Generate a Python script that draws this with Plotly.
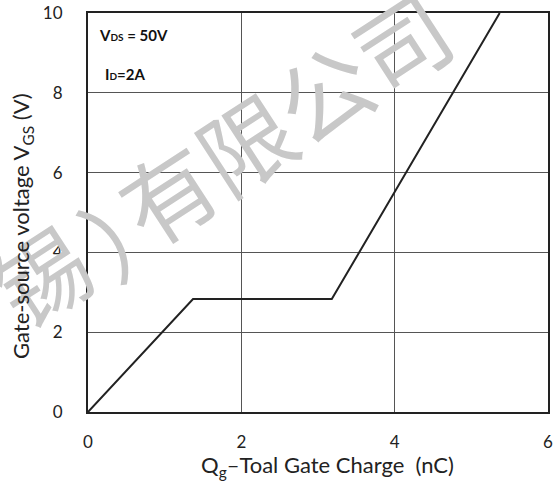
import plotly.graph_objects as go

# Data
qg_nc = [0, 1.37, 3.18, 5.37]
vgs_v = [0, 2.83, 2.83, 10]
x_ticks = [0, 2, 4, 6]
y_ticks = [0, 2, 4, 6, 8, 10]

FONT = "Lato, 'Open Sans', sans-serif"
WM = dict(size=93, color="#c8c8c8", family="Noto Sans CJK SC")
fig = go.Figure()
fig.add_trace(go.Scatter(x=qg_nc, y=vgs_v, mode="lines",
                         line=dict(color="#222222", width=2), showlegend=False,
                         hoverinfo="skip"))

fig.update_layout(
    width=557, height=483,
    margin=dict(l=88, r=9, t=13, b=71, autoexpand=False),
    paper_bgcolor="white", plot_bgcolor="white",
    font=dict(family=FONT, color="#222222"),
    xaxis=dict(range=[0, 6], tickvals=x_ticks, showgrid=True, gridcolor="#555555",
               gridwidth=1, zeroline=False, showline=True, linecolor="#222222",
               linewidth=2, mirror=True, ticks="", tickfont=dict(size=17, family=FONT),
               ticklabelstandoff=14, automargin=False),
    yaxis=dict(range=[0, 10], tickvals=y_ticks, showgrid=True, gridcolor="#555555",
               gridwidth=1, zeroline=False, showline=True, linecolor="#222222",
               linewidth=2, mirror=True, ticks="", tickfont=dict(size=17, family=FONT),
               ticklabelstandoff=20, automargin=False),
)

annos = [
    dict(text="锡", x=39, y=273, textangle=-33, font=WM),
    dict(text="）", x=130, y=223, textangle=-33, font=WM),
    dict(text="有限公司", x=283, y=115, textangle=-33, font=WM),
    dict(text="<b>V<span style='font-size:10px'>DS</span> = 50V</b>", x=97, y=35, xanchor="left",
         font=dict(size=15, color="#111111", family=FONT)),
    dict(text="<b>I<span style='font-size:10px'>D</span>=2A</b>", x=103, y=74, xanchor="left",
         font=dict(size=15, color="#111111", family=FONT)),
    dict(text="Gate-source voltage V<sub>GS</sub> (V)", x=22, y=226, textangle=-90,
         font=dict(size=22, color="#222222", family=FONT)),
    dict(text="Q<sub>g</sub>–Toal Gate Charge&nbsp; (nC)", x=327, y=466,
         font=dict(size=22, color="#222222", family=FONT)),
]
for a in annos:
    xp = a.pop("x"); yp = a.pop("y")
    fig.add_annotation(xref="paper", yref="paper",
                       x=(xp - 88) / 460, y=(412 - yp) / 399,
                       showarrow=False, yanchor="middle",
                       xanchor=a.pop("xanchor", "center"), **a)

fig.write_html("out.html", config={"displayModeBar": False},
               post_script="document.body.style.margin='0';document.body.style.padding='0';")
